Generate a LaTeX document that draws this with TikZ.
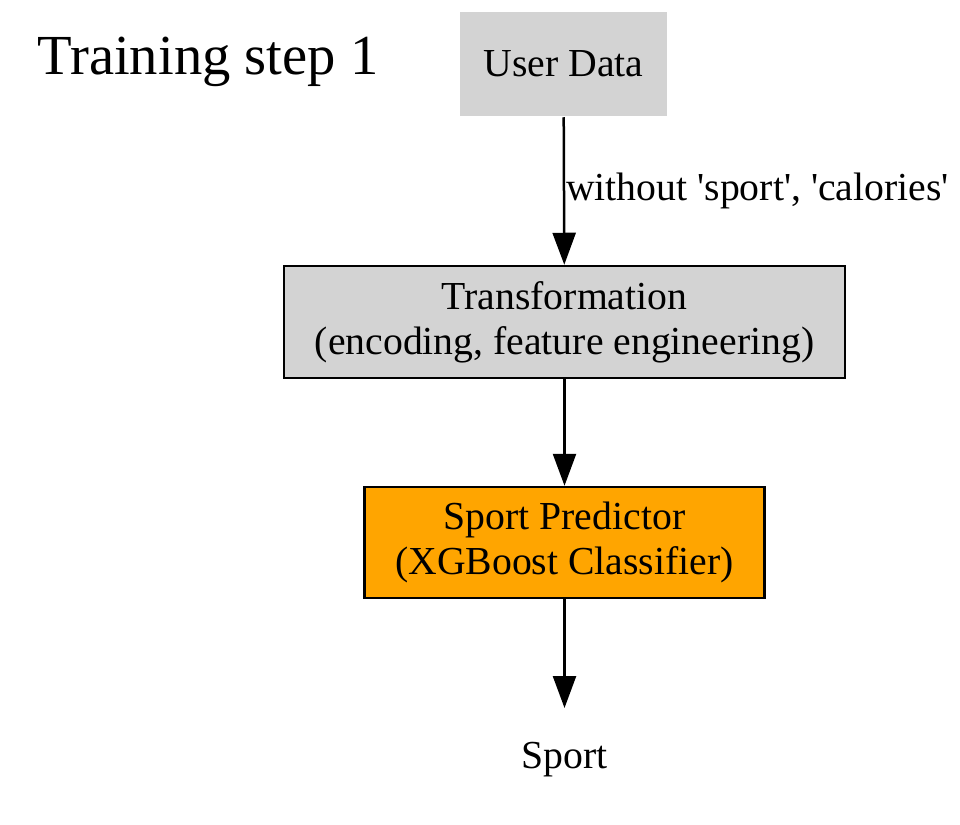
\documentclass[tikz,border=0pt]{standalone}
\usepackage{fontspec}
\setmainfont{Liberation Serif}
\usetikzlibrary{arrows.meta}
\definecolor{gvorange}{HTML}{FFA500}
\definecolor{gvgray}{HTML}{D3D3D3}

\begin{document}
\begin{tikzpicture}[x=1pt,y=-1pt,
  box/.style={rectangle, line width=2.5pt, align=center,
              font=\fontsize{39.7}{45}\selectfont},
  flow/.style={line width=2.5pt, -{Triangle[length=32pt,width=23pt]}}]
\useasboundingbox (0,0) rectangle (960,824);

\node[font=\fontsize{56.6}{60}\selectfont] (title) at (208,62) {Training step 1};

\node[box, fill=gvgray, minimum width=207pt, minimum height=104pt] (data)
          at (563.5,64) {User Data};

\node[box, draw, fill=gvgray, minimum width=561pt, minimum height=112pt] (trans)
          at (564.5,322) {Transformation\\(encoding, feature engineering)};

\node[box, draw, fill=gvorange, minimum width=400pt, minimum height=111pt] (pred)
          at (564.5,542.5) {Sport Predictor\\(XGBoost Classifier)};

\node[box, anchor=north, inner ysep=33pt] (sport) at (564.5,708) {Sport};

\draw[flow] (data) -- node[anchor=west, inner sep=0pt, xshift=1pt,
          font=\fontsize{39.7}{45}\selectfont] (lbl)
          {without \textquotesingle sport\textquotesingle, \textquotesingle calories\textquotesingle} (trans);
\draw[flow] (trans) -- (pred);
\draw[flow] (pred) -- (sport);
\end{tikzpicture}
\end{document}
